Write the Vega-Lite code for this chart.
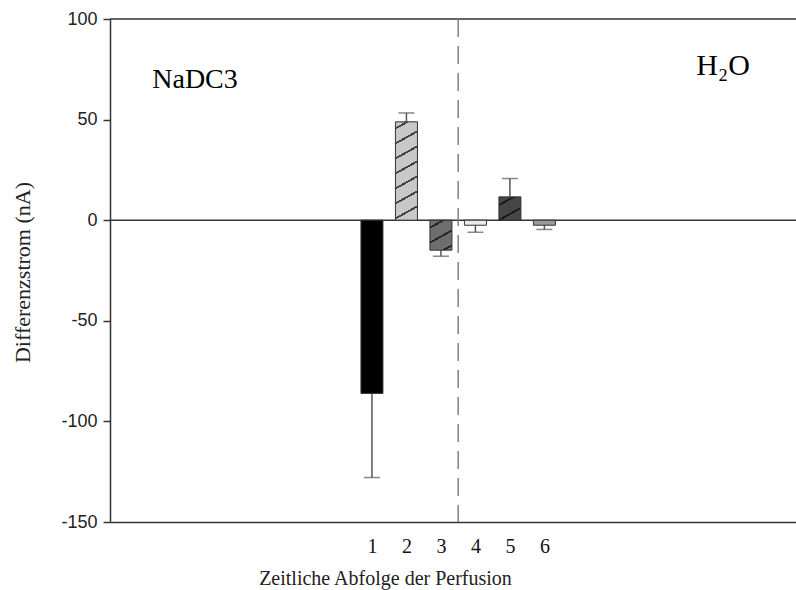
{
  "$schema": "https://vega.github.io/schema/vega-lite/v6.json",
  "autosize": "none",
  "padding": {"left": 110, "top": 19, "right": 0, "bottom": 68},
  "width": 686,
  "height": 503,
  "background": "white",
  "data": {"values": [
    {"n": 1, "value": -86.1, "err": -127.9},
    {"n": 2, "value": 48.9, "err": 53.3},
    {"n": 3, "value": -14.9, "err": -17.9},
    {"n": 4, "value": -2.5, "err": -6},
    {"n": 5, "value": 11.6, "err": 20.7},
    {"n": 6, "value": -2.5, "err": -4.6}
  ]},
  "config": {
    "view": {"stroke": null},
    "axis": {"grid": false},
    "axisX": {
      "domainColor": "#333", "domainWidth": 1.5, "ticks": false, "tickSize": 0,
      "labelFont": "Liberation Serif", "labelFontSize": 20, "labelColor": "#111", "labelPadding": 14,
      "titleFont": "Liberation Serif", "titleFontSize": 20, "titleFontWeight": "normal", "titleColor": "#222",
      "titleX": 275, "titleY": 62, "titleAlign": "center", "titleBaseline": "alphabetic"
    },
    "axisY": {
      "domainColor": "#333", "domainWidth": 1.5, "tickColor": "#333", "tickWidth": 1.5, "tickSize": 7,
      "labelFont": "Liberation Sans", "labelFontSize": 18, "labelColor": "#222", "labelPadding": 6,
      "labelExpr": "replace(datum.label, '\u2212', '-')",
      "titleFont": "Liberation Serif", "titleFontSize": 22, "titleFontWeight": "normal", "titleColor": "#222",
      "titleX": -88, "titleY": 253, "titleAlign": "center", "titleBaseline": "middle", "titleAngle": -90
    }
  },
  "layer": [
    {
      "data": {"values": [{}]},
      "mark": {"type": "rule", "color": "#333", "strokeWidth": 1.5},
      "encoding": {"y": {"datum": 100, "type": "quantitative"}}
    },
    {
      "data": {"values": [{}]},
      "mark": {"type": "rule", "color": "#333", "strokeWidth": 1.5},
      "encoding": {"y": {"datum": 0, "type": "quantitative"}}
    },
    {
      "data": {"values": [{}]},
      "mark": {"type": "rule", "color": "#808080", "strokeWidth": 1.5, "strokeDash": [18, 9]},
      "encoding": {"x": {"datum": 3.5, "type": "quantitative"}}
    },
    {
      "mark": {"type": "rule", "color": "#555", "strokeWidth": 1.5},
      "encoding": {
        "x": {"field": "n", "type": "quantitative", "title": "Zeitliche Abfolge der Perfusion",
              "scale": {"domain": [-6.45, 13.15], "nice": false, "zero": false},
              "axis": {"values": [1, 2, 3, 4, 5, 6]}},
        "y": {"field": "value", "type": "quantitative", "title": "Differenzstrom (nA)",
              "scale": {"domain": [-150, 100], "nice": false},
              "axis": {"values": [-150, -100, -50, 0, 50, 100]}},
        "y2": {"field": "err"}
      }
    },
    {
      "mark": {"type": "tick", "orient": "horizontal", "color": "#555", "size": 16, "thickness": 1.5},
      "encoding": {
        "x": {"field": "n", "type": "quantitative", "title": "Zeitliche Abfolge der Perfusion"},
        "y": {"field": "err", "type": "quantitative", "title": "Differenzstrom (nA)"}
      }
    },
    {
      "transform": [{"filter": "datum.n == 1 || datum.n == 4 || datum.n == 6"}],
      "mark": {"type": "bar", "size": 22, "stroke": "#333", "strokeWidth": 1},
      "encoding": {
        "x": {"field": "n", "type": "quantitative", "title": "Zeitliche Abfolge der Perfusion"},
        "y": {"field": "value", "type": "quantitative", "title": "Differenzstrom (nA)"},
        "fill": {"field": "n", "type": "nominal", "legend": null,
                 "scale": {"domain": [1, 4, 6], "range": ["#000000", "#ebebeb", "#9a9a9a"]}}
      }
    },
    {
      "transform": [{"filter": "datum.n == 2"}],
      "mark": {"type": "bar", "size": 22, "stroke": "#333", "strokeWidth": 1,
        "fill": {"gradient": "linear", "x1": 0, "y1": 0, "x2": 0.136, "y2": 1.1062, "stops": [
          {"offset": 0, "color": "#c8c8c8"}, {"offset": 0.05, "color": "#c8c8c8"},
          {"offset": 0.05, "color": "#444444"}, {"offset": 0.0699, "color": "#444444"},
          {"offset": 0.0699, "color": "#c8c8c8"}, {"offset": 0.1857, "color": "#c8c8c8"},
          {"offset": 0.1857, "color": "#444444"}, {"offset": 0.2056, "color": "#444444"},
          {"offset": 0.2056, "color": "#c8c8c8"}, {"offset": 0.3214, "color": "#c8c8c8"},
          {"offset": 0.3214, "color": "#444444"}, {"offset": 0.3413, "color": "#444444"},
          {"offset": 0.3413, "color": "#c8c8c8"}, {"offset": 0.4571, "color": "#c8c8c8"},
          {"offset": 0.4571, "color": "#444444"}, {"offset": 0.477, "color": "#444444"},
          {"offset": 0.477, "color": "#c8c8c8"}, {"offset": 0.5928, "color": "#c8c8c8"},
          {"offset": 0.5928, "color": "#444444"}, {"offset": 0.6127, "color": "#444444"},
          {"offset": 0.6127, "color": "#c8c8c8"}, {"offset": 0.7285, "color": "#c8c8c8"},
          {"offset": 0.7285, "color": "#444444"}, {"offset": 0.7484, "color": "#444444"},
          {"offset": 0.7484, "color": "#c8c8c8"}, {"offset": 0.8642, "color": "#c8c8c8"},
          {"offset": 0.8642, "color": "#444444"}, {"offset": 0.8841, "color": "#444444"},
          {"offset": 0.8841, "color": "#c8c8c8"}, {"offset": 1, "color": "#c8c8c8"}
        ]}},
      "encoding": {
        "x": {"field": "n", "type": "quantitative", "title": "Zeitliche Abfolge der Perfusion"},
        "y": {"field": "value", "type": "quantitative", "title": "Differenzstrom (nA)"}
      }
    },
    {
      "transform": [{"filter": "datum.n == 3"}],
      "mark": {"type": "bar", "size": 22, "stroke": "#333", "strokeWidth": 1,
        "fill": {"gradient": "linear", "x1": 0, "y1": 0, "x2": 0.4868, "y2": 1.207, "stops": [
          {"offset": 0, "color": "#6e6e6e"}, {"offset": 0.15, "color": "#6e6e6e"},
          {"offset": 0.15, "color": "#262626"}, {"offset": 0.2023, "color": "#262626"},
          {"offset": 0.2023, "color": "#6e6e6e"}, {"offset": 0.5063, "color": "#6e6e6e"},
          {"offset": 0.5063, "color": "#262626"}, {"offset": 0.5586, "color": "#262626"},
          {"offset": 0.5586, "color": "#6e6e6e"}, {"offset": 0.8626, "color": "#6e6e6e"},
          {"offset": 0.8626, "color": "#262626"}, {"offset": 0.9149, "color": "#262626"},
          {"offset": 0.9149, "color": "#6e6e6e"}, {"offset": 1, "color": "#6e6e6e"}
        ]}},
      "encoding": {
        "x": {"field": "n", "type": "quantitative", "title": "Zeitliche Abfolge der Perfusion"},
        "y": {"field": "value", "type": "quantitative", "title": "Differenzstrom (nA)"}
      }
    },
    {
      "transform": [{"filter": "datum.n == 5"}],
      "mark": {"type": "bar", "size": 22, "stroke": "#333", "strokeWidth": 1,
        "fill": {"gradient": "linear", "x1": 0, "y1": 0, "x2": 0.6214, "y2": 1.1966, "stops": [
          {"offset": 0, "color": "#464646"}, {"offset": 0.2, "color": "#464646"},
          {"offset": 0.2, "color": "#1a1a1a"}, {"offset": 0.2621, "color": "#1a1a1a"},
          {"offset": 0.2621, "color": "#464646"}, {"offset": 0.6237, "color": "#464646"},
          {"offset": 0.6237, "color": "#1a1a1a"}, {"offset": 0.6858, "color": "#1a1a1a"},
          {"offset": 0.6858, "color": "#464646"}, {"offset": 1, "color": "#464646"}
        ]}},
      "encoding": {
        "x": {"field": "n", "type": "quantitative", "title": "Zeitliche Abfolge der Perfusion"},
        "y": {"field": "value", "type": "quantitative", "title": "Differenzstrom (nA)"}
      }
    },
    {
      "data": {"values": [{}]},
      "mark": {"type": "text", "text": "NaDC3", "font": "Liberation Serif", "fontSize": 28, "fontWeight": "normal", "fill": "#000", "align": "left", "baseline": "alphabetic"},
      "encoding": {
        "x": {"datum": -5.37, "type": "quantitative"},
        "y": {"datum": 65.6, "type": "quantitative"}
      }
    },
    {
      "data": {"values": [{}]},
      "mark": {"type": "text", "text": "H₂O", "font": "Liberation Serif", "fontSize": 30, "fontWeight": "normal", "fill": "#000", "align": "left", "baseline": "alphabetic"},
      "encoding": {
        "x": {"datum": 10.4, "type": "quantitative"},
        "y": {"datum": 72, "type": "quantitative"}
      }
    }
  ]
}
